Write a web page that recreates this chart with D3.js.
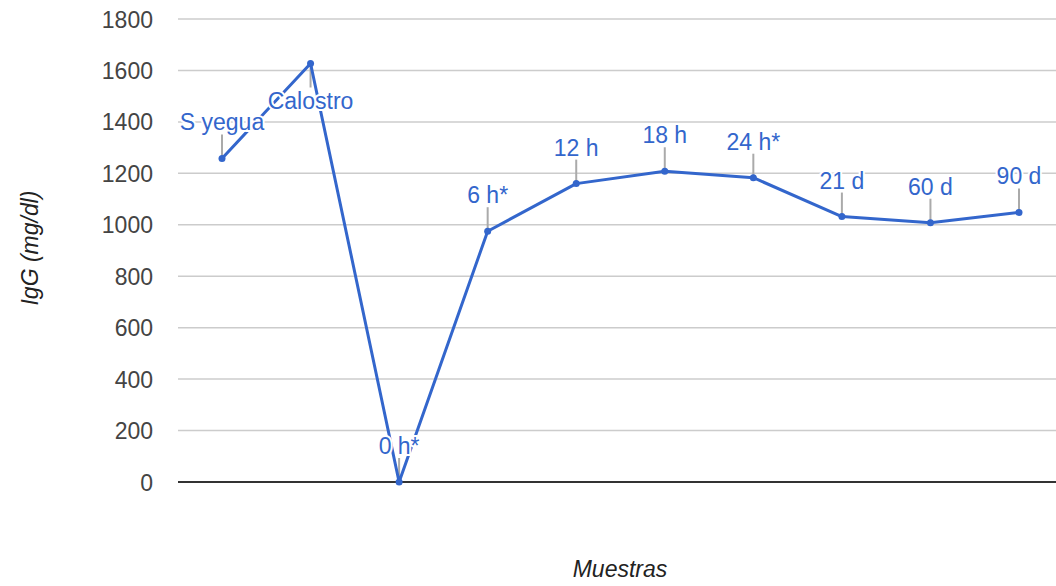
<!DOCTYPE html>
<html>
<head>
<meta charset="utf-8">
<script src="https://cdn.jsdelivr.net/npm/d3@7"></script>
<style>
  body { margin: 0; background: #fff; }
  svg { font-family: "Liberation Sans", Arial, sans-serif; }
</style>
</head>
<body>
<svg id="chart" width="1056" height="586"></svg>
<script>
// chart data
const muestras = ['S yegua', 'Calostro', '0 h*', '6 h*', '12 h', '18 h', '24 h*', '21 d', '60 d', '90 d'];
const igg = [1258, 1627, 0, 975, 1160, 1208, 1183, 1032, 1008, 1048];
const yTicks = [0, 200, 400, 600, 800, 1000, 1200, 1400, 1600, 1800];

const blue = '#3366cc';
const svg = d3.select('#chart');

// scales
const x = d3.scalePoint()
  .domain(muestras)
  .range([222, 1019]);

const y = d3.scaleLinear()
  .domain([0, 1800])
  .range([482, 19]);

// gridlines
svg.append('g')
  .selectAll('line')
  .data(yTicks.filter(d => d !== 0))
  .enter()
  .append('line')
  .attr('x1', 178)
  .attr('x2', 1056)
  .attr('y1', d => y(d))
  .attr('y2', d => y(d))
  .attr('stroke', '#cccccc')
  .attr('stroke-width', 1.5);

// y axis labels
const yAxis = d3.axisLeft(y)
  .tickValues(yTicks)
  .tickFormat(d3.format('d'))
  .tickSize(0)
  .tickPadding(0);
const ya = svg.append('g')
  .attr('transform', 'translate(153,0)')
  .call(yAxis);
ya.select('.domain').remove();
ya.selectAll('text')
  .attr('fill', '#444')
  .attr('font-size', 23)
  .attr('font-family', '"Liberation Sans", Arial, sans-serif')
  .attr('dy', '0.35em');

// baseline
svg.append('line')
  .attr('x1', 178)
  .attr('x2', 1056)
  .attr('y1', y(0))
  .attr('y2', y(0))
  .attr('stroke', '#333')
  .attr('stroke-width', 2);

// annotation stems (Calostro flips below the point)
const below = d => d === 'Calostro';
svg.append('g')
  .selectAll('line')
  .data(muestras)
  .enter()
  .append('line')
  .attr('x1', d => x(d))
  .attr('x2', d => x(d))
  .attr('y1', (d, i) => y(igg[i]))
  .attr('y2', (d, i) => y(igg[i]) + (below(d) ? 24 : -24))
  .attr('stroke', '#aaa')
  .attr('stroke-width', 2);

// line
const line = d3.line()
  .x((d, i) => x(muestras[i]))
  .y(d => y(d));

svg.append('path')
  .datum(igg)
  .attr('d', line)
  .attr('fill', 'none')
  .attr('stroke', blue)
  .attr('stroke-width', 3)
  .attr('stroke-linejoin', 'round');

svg.append('g')
  .selectAll('circle')
  .data(igg)
  .enter()
  .append('circle')
  .attr('cx', (d, i) => x(muestras[i]))
  .attr('cy', d => y(d))
  .attr('r', 3.5)
  .attr('fill', blue);

// annotation labels with white halo
svg.append('g')
  .selectAll('text')
  .data(muestras)
  .enter()
  .append('text')
  .attr('x', d => x(d))
  .attr('y', (d, i) => y(igg[i]) + (below(d) ? 46 : -28))
  .attr('text-anchor', 'middle')
  .attr('font-size', 23)
  .attr('fill', blue)
  .attr('stroke', '#fff')
  .attr('stroke-width', 4)
  .attr('paint-order', 'stroke')
  .text(d => d);

// axis titles
svg.append('text')
  .attr('transform', 'translate(38,248) rotate(-90)')
  .attr('text-anchor', 'middle')
  .attr('font-size', 23)
  .attr('font-style', 'italic')
  .attr('fill', '#222')
  .text('IgG (mg/dl)');

svg.append('text')
  .attr('x', 620)
  .attr('y', 577)
  .attr('text-anchor', 'middle')
  .attr('font-size', 23)
  .attr('font-style', 'italic')
  .attr('fill', '#222')
  .text('Muestras');
</script>
</body>
</html>
